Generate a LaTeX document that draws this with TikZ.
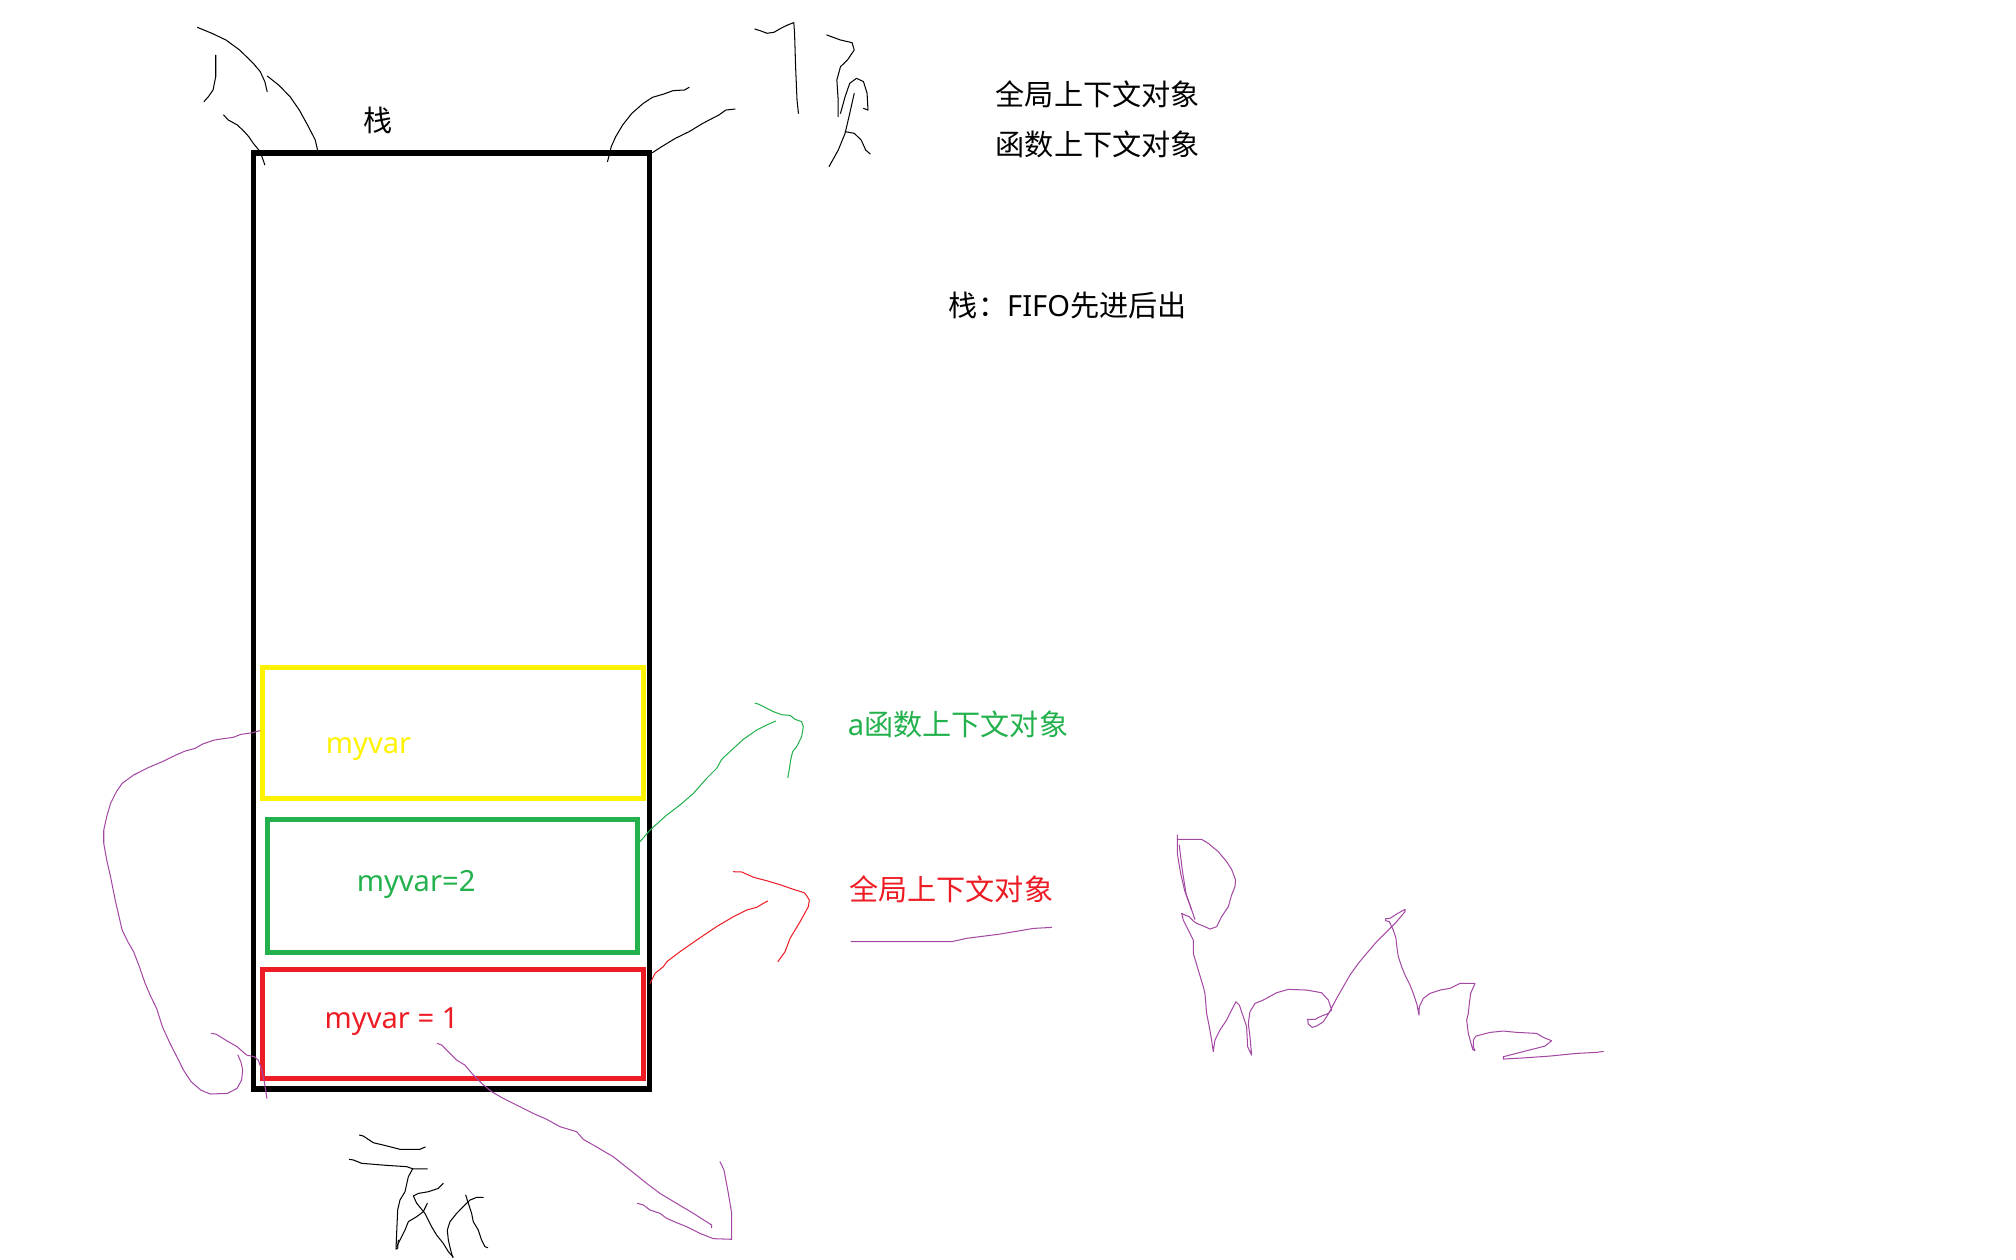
\documentclass[tikz,border=0pt]{standalone}
\usepackage{fontspec}
\setmainfont{Noto Sans}
\newfontfamily\cjk{Noto Sans CJK SC}
\usepackage{tikz}
\usepackage{xcolor}
\definecolor{pyellow}{RGB}{255,242,0}
\definecolor{pgreen}{RGB}{34,177,76}
\definecolor{pred}{RGB}{237,28,36}
\definecolor{ppurple}{RGB}{163,73,164}
\tikzset{every picture/.style={line width=0.75pt}}
\tikzset{
  pen/.style={line width=0.6pt, line join=round, line cap=round},
  stackframe/.style={line width=3.2pt},
  slotbox/.style={line width=2.9pt},
  txt/.style={anchor=west, inner sep=0pt, font=\fontsize{17}{20}\selectfont},
  vartxt/.style={anchor=base west, inner sep=0pt, font=\fontsize{17}{20}\selectfont},
}

\begin{document}
\begin{tikzpicture}[x=0.75pt,y=0.75pt,yscale=-1,xscale=1]
\useasboundingbox (0,0) rectangle (1568,980);

%Shape: Rectangle [stack]
\draw [stackframe] (197,119) -- (505,119) -- (505,847) -- (197,847) -- cycle ;
%Shape: Rectangle [yellow slot]
\draw [slotbox, draw=pyellow] (204.5,519) -- (500.5,519) -- (500.5,621) -- (204.5,621) -- cycle ;
%Shape: Rectangle [green slot]
\draw [slotbox, draw=pgreen] (208,637.5) -- (496,637.5) -- (496,741) -- (208,741) -- cycle ;
%Shape: Rectangle [red slot]
\draw [slotbox, draw=pred] (204.5,754) -- (500.5,754) -- (500.5,839) -- (204.5,839) -- cycle ;

%Curve Lines [handwriting top left]
\draw [pen] (153.6,21.3) -- (165,26) -- (175.7,31.1) -- (186.4,38.9) -- (197,49.3) -- (202.4,55.7) -- (206,63.5) -- (207.8,71.3) ;
\draw [pen] (207.8,59.1) -- (216.7,66.1) -- (225.6,75.2) -- (232.8,85.6) -- (239.9,98.5) -- (245.2,108.9) -- (247,116.7) ;
\draw [pen] (167.8,42.8) -- (167.8,59.6) -- (165.7,70) -- (162.1,75.2) -- (158.6,79.1) ;
\draw [pen] (173.9,89.4) -- (177.5,93.3) -- (184.6,97.2) -- (190,102.4) -- (193.5,106.3) -- (197,111.5) -- (202.4,118) -- (206,128.3) ;
%Curve Lines [handwriting top right]
\draw [pen] (536,67.9) -- (532.4,70) -- (523.5,70.5) -- (516.4,73.1) -- (507.5,75.7) -- (500.3,80.4) -- (491.4,88.2) -- (484.3,97.2) -- (478.9,106.3) -- (475.4,114.1) -- (472.5,125.7) ;
\draw [pen] (571.7,84.8) -- (564.5,85.6) -- (559.2,89.4) -- (546.7,95.9) -- (536,102.4) -- (525.3,107.6) -- (514.6,114.1) -- (507.5,118.7) ;
%Curve Lines [handwriting top]
\draw [pen] (587,22.6) -- (591.3,23.9) -- (596.6,25.9) -- (602,25.1) -- (607.4,22) -- (612.7,19.4) -- (617.4,17.6) -- (618,25.9) -- (618.8,51.9) -- (619.9,77.8) -- (621,88.2) ;
\draw [pen] (643,27.2) -- (653.7,31.1) -- (662.7,33.2) -- (664.4,38.9) -- (659.1,46.7) -- (653.7,51.9) -- (650.9,62.2) -- (651.9,77.8) -- (651.9,90.7) ;
\draw [pen] (653.7,88.2) -- (657.3,75.2) -- (660.9,64.8) -- (666.2,60.9) -- (671.6,63.5) -- (674.4,72.6) -- (675.1,85.6) -- (671.6,84.3) ;
\draw [pen] (664.4,72.6) -- (660.9,88.2) -- (657.3,103.7) -- (652,116.7) -- (644.8,129.6) ;
\draw [pen] (657.3,102.4) -- (664.4,103.7) -- (669.8,108.9) -- (673.3,116.7) -- (676.9,119.8) ;

%Curve Lines [handwriting bottom]
\draw [pen] (279.5,882.8) -- (282.6,883.6) -- (290.4,888.8) -- (298.1,890.6) -- (311.1,893.9) -- (326.6,893.9) -- (330.8,892.1) ;
\draw [pen] (271.7,901.7) -- (274.8,902.2) -- (281.3,904.8) -- (300.7,906.4) -- (316.3,907.4) -- (321.5,909.2) -- (332.4,909.2) ;
\draw [pen] (320.9,909.2) -- (317.6,915.2) -- (315,926.9) -- (311.1,933.4) -- (309.3,941.1) -- (308.5,959.3) -- (308,971.5) -- (309.3,971) -- (309.8,964.5) ;
\draw [pen] (344.8,920.4) -- (340.9,924.3) -- (333.1,926.9) -- (325.4,928.2) -- (321.5,930.2) -- (324.1,935.9) -- (330.5,943.7) -- (335.7,954.1) -- (339.6,960.6) -- (344.8,967.1) -- (348.7,973.5) -- (352.6,977.9) ;
\draw [pen] (332.4,935.9) -- (329.2,942.4) -- (324.1,946.3) -- (317.6,950.2) -- (315,956.7) -- (308.5,969.6) ;
\draw [pen] (375.9,931.3) -- (370.7,931.3) -- (365.5,933.4) -- (360.3,938.5) -- (355.2,943.7) -- (350,950.2) -- (347.9,956.7) -- (348.7,964.5) -- (350.5,972.2) -- (352.1,977.9) ;
\draw [pen] (362.2,929.5) -- (364.3,936) -- (366.8,943.7) -- (368.1,950.2) -- (372,956.7) -- (374.6,964.5) -- (377.2,969.6) -- (379.3,970.4) ;

%Curve Lines [green arrow]
\draw [pen, pgreen] (497.8,654.6) -- (505.6,645.6) -- (518.6,633.9) -- (528.9,626.1) -- (539.3,617.1) -- (549.6,605.4) -- (557.4,597.6) -- (561.3,590.6) -- (569.1,583.3) -- (578.2,575) -- (588.5,567.8) -- (596.3,563.9) -- (603.3,560.8) ;
\draw [pen, pgreen] (587.3,547) -- (589.9,547.6) -- (595.1,550.2) -- (601.5,553.5) -- (608,555.9) -- (614.5,556.4) -- (618.4,559.5) -- (623.5,561.3) -- (624.8,565.2) -- (623.5,573) -- (619.6,580.8) -- (616.5,584.6) -- (615,591.1) -- (614,597.6) -- (612.7,604.9) ;
%Curve Lines [red arrow]
\draw [pen, pred] (505.6,764.8) -- (509.5,757) -- (516,751.8) -- (518.6,748) -- (528.9,740.2) -- (541.9,731.1) -- (557.4,720.7) -- (570.4,713) -- (580.7,707.8) -- (588.5,705.7) -- (593.7,702.6) -- (597.1,700.8) ;
\draw [pen, pred] (570.4,678) -- (576.9,678.2) -- (586.2,682.4) -- (596.3,685) -- (606.7,688.1) -- (617.1,691.7) -- (625.4,694.3) -- (627,696.1) -- (629.5,700) -- (628.7,705.2) -- (622.3,716.9) -- (614.5,729.8) -- (610.6,740.2) -- (605,748) ;

%Curve Lines [purple]
\draw [pen, ppurple] (661.9,732.4) -- (740.2,732.4) -- (751.9,729.8) -- (777.8,726.5) -- (803.8,722.1) -- (818,721.3) ;
\draw [pen, ppurple] (202.2,568.3) -- (196.3,569.9) -- (187.3,571.2) -- (181.4,573.5) -- (173.9,574.5) -- (166.5,575.6) -- (157.6,578.7) -- (151.6,582.1) -- (144.1,584.1) -- (136.7,587.3) -- (126.3,592.4) -- (115.8,596.8) -- (103.9,602.8) -- (95,609.3) -- (90.5,615.8) -- (86,624.8) -- (83,635.2) -- (80.7,645.6) -- (80.7,656) -- (83,668.9) -- (86,681.9) -- (89.6,700) -- (92,710.4) -- (95,723.4) -- (99.4,732.4) -- (103.9,740.2) -- (108.4,751.9) -- (112.9,764.9) -- (117.3,775.2) -- (121.8,784.3) -- (126.3,798.5) -- (132.2,811.5) -- (138.2,823.2) -- (142.7,832.3) -- (148.6,841.3) -- (156.1,847.8) -- (163.5,850.9) -- (176.9,850.4) -- (184.4,846.5) -- (187.9,840) -- (188.8,832.3) -- (187.3,825.8) -- (185,820.6) ;
\draw [pen, ppurple] (164.4,803.8) -- (168,804.3) -- (175.4,808.9) -- (184.4,814.1) -- (191.8,820.6) -- (197.8,821.9) -- (200.8,824.5) -- (203.7,832.3) -- (205.8,842.6) -- (207.6,854.3) ;
\draw [pen, ppurple] (340.1,811.5) -- (343.5,812.8) -- (348.7,818) -- (355.2,824.5) -- (361.6,828.4) -- (368.1,836.1) -- (374.6,842.6) -- (382.4,849.1) -- (391.4,854.3) -- (404.4,860.8) -- (414.8,866) -- (425.2,870.6) -- (435.5,876.3) -- (448.5,880.2) -- (453.7,886.2) -- (461.5,890.6) -- (477,899.7) -- (490,910) -- (503,920.4) -- (513.3,928.2) -- (526.3,936) -- (539.2,943.7) -- (553.5,952.8) -- (553.5,954.9) ;
\draw [pen, ppurple] (495.7,935.9) -- (500.4,937.2) -- (505.5,941.1) -- (513.3,943.7) -- (518.5,947.6) -- (526.3,951) -- (534.1,954.1) -- (539.2,956.7) -- (544.4,959.3) -- (554.8,963.4) -- (569.1,963.9) -- (569.1,943.7) -- (566.5,928.2) -- (563.1,910) -- (560,903.5) ;

%Curve Lines [signature]
\begin{scope}[shift={(894.4,637.8)}, scale=0.2593]
\draw [pen, ppurple, line width=0.6pt] (82,45) -- (82,100) -- (92,160) -- (105,215) -- (120,255) -- (135,298) ;
\draw [pen, ppurple, line width=0.6pt] (88,75) -- (97,150) -- (108,220) -- (125,270) ;
\draw [pen, ppurple, line width=0.6pt] (82,58) -- (155,58) -- (175,70) -- (205,95) -- (230,125) -- (245,148) -- (257,180) -- (255,200) -- (245,225) -- (235,260) -- (215,290) -- (200,320) -- (180,327) -- (165,320) -- (140,310) -- (130,303) -- (118,290) -- (105,285) -- (95,280) -- (100,300) -- (115,330) -- (130,360) -- (130,400) -- (145,450) -- (160,500) -- (165,520) -- (170,580) -- (178,620) -- (185,660) -- (190,695) -- (195,660) -- (210,630) -- (230,600) -- (245,570) -- (258,545) -- (268,555) -- (280,590) -- (290,620) -- (293,680) -- (305,705) -- (300,650) -- (295,610) -- (300,575) -- (315,550) -- (340,540) -- (380,518) -- (415,508) -- (470,510) -- (515,518) -- (535,540) -- (545,570) -- (535,580) -- (510,590) -- (495,598) -- (473,598) -- (475,612) -- (487,622) -- (500,618) -- (520,605) -- (535,582) -- (560,535) -- (580,500) -- (600,465) -- (625,430) -- (650,400) -- (680,365) -- (710,335) -- (740,305) -- (765,275) -- (765,268) -- (740,282) -- (720,295) -- (707,296) -- (707,302) -- (718,305) -- (730,330) -- (738,355) -- (740,375) -- (745,410) -- (755,440) -- (765,465) -- (780,495) -- (790,520) -- (800,550) -- (807,585) -- (808,560) -- (820,535) -- (840,520) -- (870,510) -- (900,505) -- (930,490) -- (975,490) -- (962,520) -- (958,550) -- (955,580) -- (950,600) -- (955,640) -- (968,688) -- (975,692) -- (970,680) -- (970,660) -- (978,648) -- (1020,637) -- (1060,633) -- (1100,637) -- (1160,640) -- (1180,652) -- (1205,662) -- (1185,678) -- (1130,692) -- (1060,710) -- (1060,717) -- (1130,713) -- (1200,708) -- (1280,700) -- (1340,697) -- (1360,694) ;
\end{scope}

% Text Node
\node [txt] (stacklbl) at (282.5,93.4) {\cjk 栈};
% Text Node
\node [txt] (globalctx) at (774,73.3) {\cjk 全局上下文对象};
% Text Node
\node [txt] (funcctx) at (774,112.4) {\cjk 函数上下文对象};
% Text Node
\node [txt] (fifo) at (737.5,237.6) {{\cjk 栈：}FIFO{\cjk 先进后出}};
% Text Node
\node [txt, text=pgreen] (actx) at (659,563.5) {a{\cjk 函数上下文对象}};
% Text Node
\node [txt, text=pred] (gctx) at (660,692) {\cjk 全局上下文对象};
% Text Node
\node [vartxt, text=pyellow] (varnone) at (253,586) {myvar};
% Text Node
\node [vartxt, text=pgreen] (vartwo) at (277,693) {myvar=2};
% Text Node
\node [vartxt, text=pred] (varone) at (252,800) {myvar = 1};

\end{tikzpicture}
\end{document}
